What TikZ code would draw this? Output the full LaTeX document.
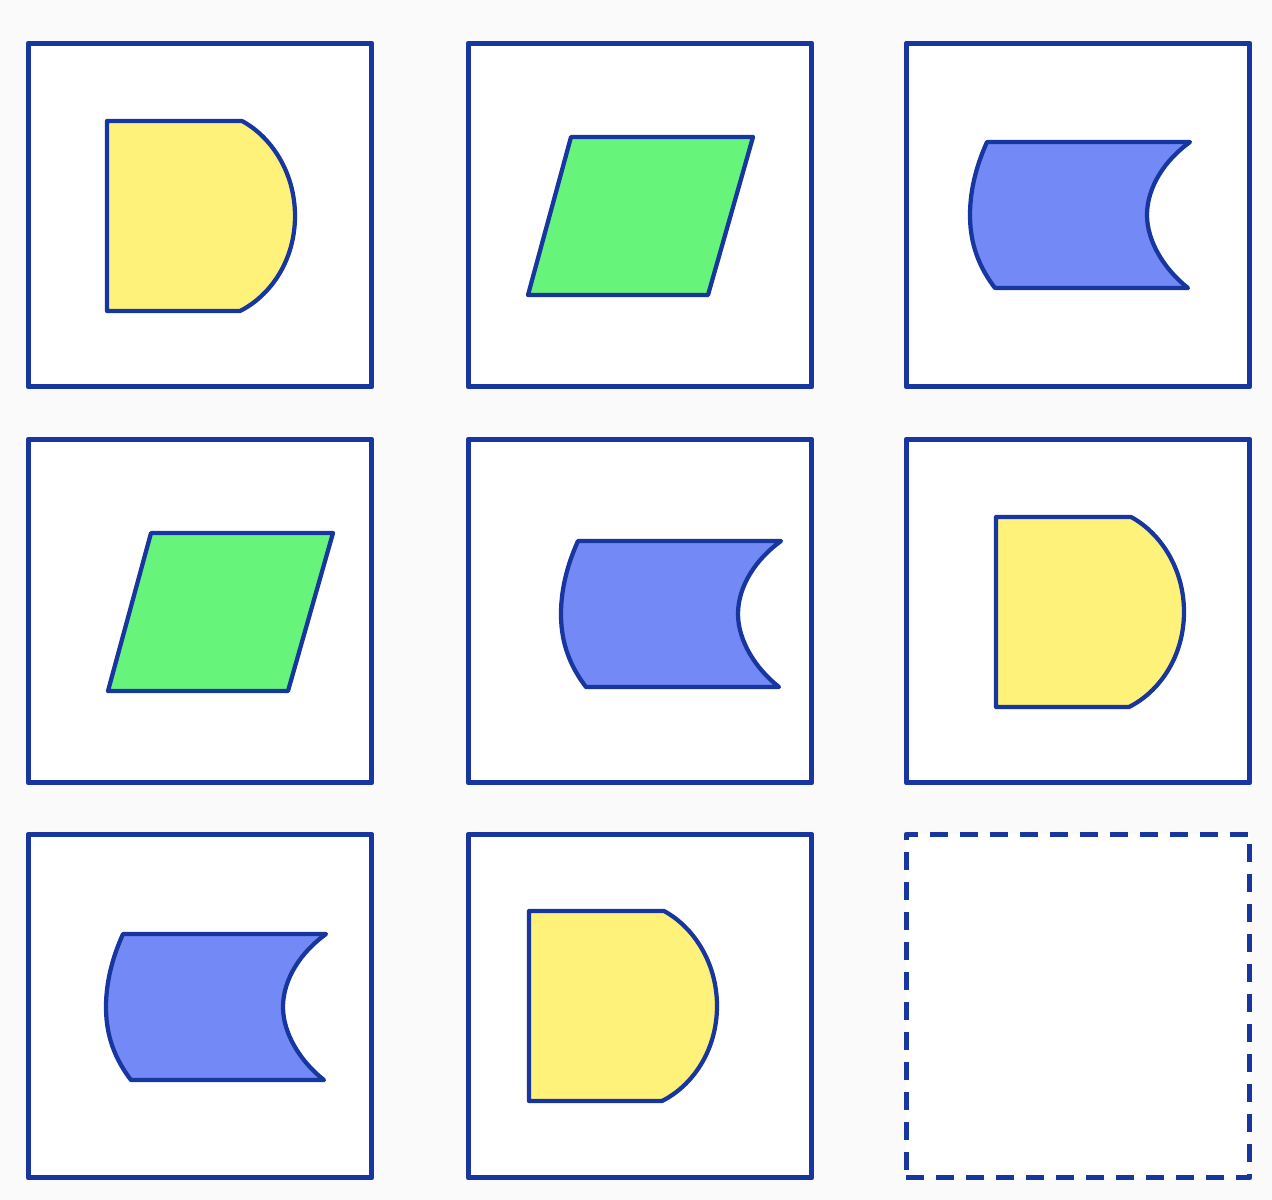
\documentclass[tikz,border=0pt]{standalone}
\begin{document}
\begin{tikzpicture}[x=0.02cm,y=-0.02cm,
  line join=round,
  frame/.style={draw=edge,fill=white,line width=0.1cm,minimum width=6.88cm,minimum height=6.88cm,inner sep=0pt,outer sep=0pt},
  emptyframe/.style={frame,dash pattern=on 0.36cm off 0.24cm},
  outl/.style={draw=edge,line width=0.085cm},
  dshape/.pic={\path[outl,fill=dyel] (0,0) -- (135,0) .. controls (163,15) and (188,50) .. (188,95) .. controls (188,140) and (163,175) .. (133,190) -- (0,190) -- cycle;},
  para/.pic={\path[outl,fill=pgreen] (43,0) -- (225,0) -- (180,158) -- (0,158) -- cycle;},
  store/.pic={\path[outl,fill=sblue] (17,0) -- (220,0) .. controls (195,18) and (177,45) .. (177,73) .. controls (177,100) and (195,128) .. (218,146) -- (25,146) .. controls (5,120) and (0,95) .. (0,73) .. controls (0,45) and (8,20) .. (17,0) -- cycle;}
]
\definecolor{edge}{RGB}{24,54,160}
\definecolor{dyel}{RGB}{255,242,122}
\definecolor{pgreen}{RGB}{102,245,122}
\definecolor{sblue}{RGB}{115,137,245}
\definecolor{bg}{RGB}{250,250,250}
\fill[bg] (0,0) rectangle (1272,1200);
\useasboundingbox (0,0) rectangle (1272,1200);
% frames
\node[frame] (f11) at (200,215) {};
\node[frame] (f12) at (640,215) {};
\node[frame] (f13) at (1078,215) {};
\node[frame] (f21) at (200,611) {};
\node[frame] (f22) at (640,611) {};
\node[frame] (f23) at (1078,611) {};
\node[frame] (f31) at (200,1006) {};
\node[frame] (f32) at (640,1006) {};
\node[emptyframe] (f33) at (1078,1006) {};
% shapes
\pic (s11) at (107,121) {dshape};
\pic (s12) at (528,137) {para};
\pic (s13) at (970,142) {store};
\pic (s21) at (108,533) {para};
\pic (s22) at (561,541) {store};
\pic (s23) at (996,517) {dshape};
\pic (s31) at (106,934) {store};
\pic (s32) at (529,911) {dshape};
\end{tikzpicture}
\end{document}
